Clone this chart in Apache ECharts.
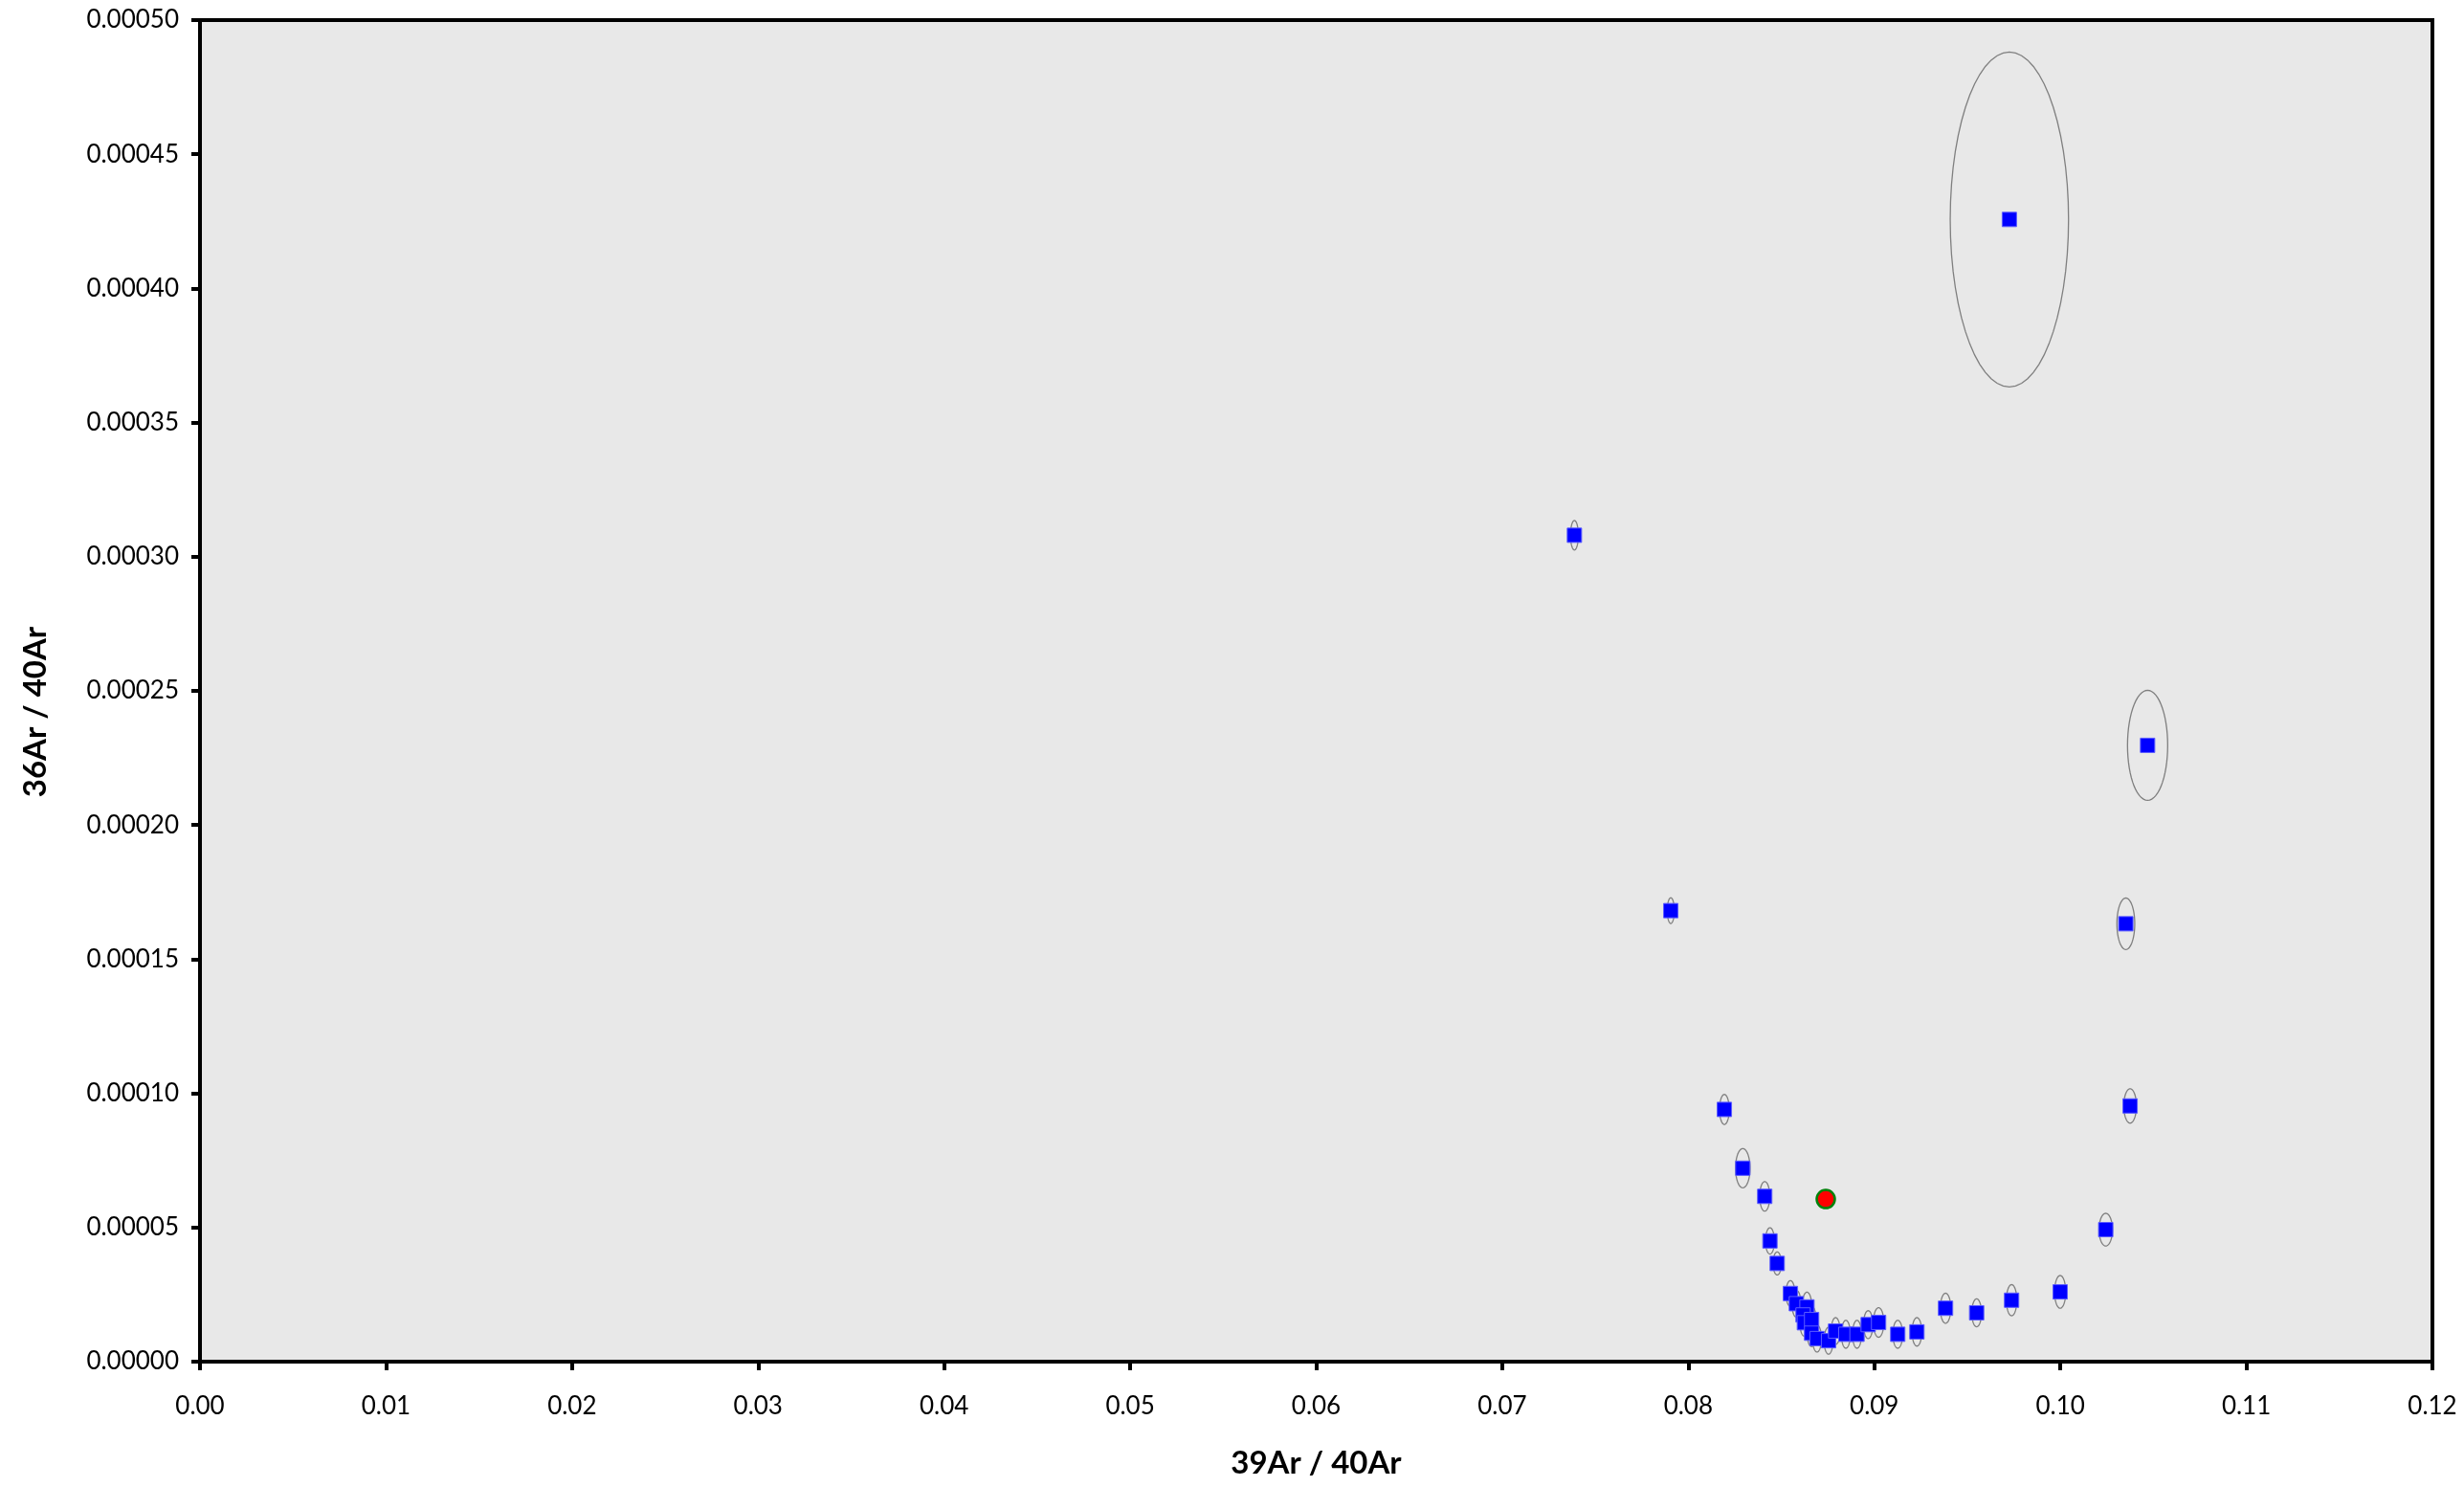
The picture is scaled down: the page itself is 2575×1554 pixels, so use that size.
<!DOCTYPE html>
<html>
<head>
<meta charset="utf-8">
<title>36Ar/40Ar vs 39Ar/40Ar</title>
<script src="https://cdn.jsdelivr.net/npm/echarts@6/dist/echarts.min.js"></script>
<style>
  html, body { margin: 0; padding: 0; background: #fff; }
  #chart { width: 2575px; height: 1554px; }
</style>
</head>
<body>
<div id="chart"></div>
<script>
// step data
var ar39_40 = [0.07388, 0.07906, 0.08194, 0.08293, 0.08411, 0.08439, 0.08478,
    0.08549, 0.08581, 0.08638, 0.08617, 0.08624, 0.08663, 0.08663, 0.08692,
    0.08754, 0.08792, 0.08847, 0.08907, 0.08967, 0.09023,
    0.09126, 0.09229, 0.09383, 0.09550, 0.09738, 0.09999,
    0.10244, 0.10375, 0.10352, 0.10469, 0.09726];
var ar36_40 = [0.0003080, 0.0001681, 0.0000940, 0.0000721, 0.0000616, 0.0000450, 0.0000366,
    0.0000254, 0.0000216, 0.0000204, 0.0000174, 0.0000145, 0.0000157, 0.0000106, 0.0000086,
    0.0000078, 0.0000114, 0.0000102, 0.0000102, 0.0000138, 0.0000146,
    0.0000102, 0.0000111, 0.0000199, 0.0000182, 0.0000229, 0.0000260,
    0.0000492, 0.0000953, 0.0001632, 0.0002297, 0.0004257];
// error ellipse half widths
var err39 = [0.00021, 0.00019, 0.00026, 0.00039, 0.00027, 0.00024, 0.00022,
    0.00024, 0.00024, 0.00026, 0.00024, 0.00024, 0.00024, 0.00024, 0.00024,
    0.00024, 0.00024, 0.00024, 0.00024, 0.00025, 0.00028,
    0.00026, 0.00026, 0.00028, 0.00026, 0.00028, 0.00030,
    0.00036, 0.00034, 0.00048, 0.00108, 0.00318];
var err36 = [0.0000055, 0.0000048, 0.0000056, 0.0000073, 0.0000055, 0.0000049, 0.0000043,
    0.0000048, 0.0000050, 0.0000055, 0.0000050, 0.0000050, 0.0000050, 0.0000050, 0.0000050,
    0.0000050, 0.0000050, 0.0000052, 0.0000052, 0.0000052, 0.0000055,
    0.0000052, 0.0000053, 0.0000056, 0.0000052, 0.0000058, 0.0000061,
    0.0000061, 0.0000064, 0.0000096, 0.0000205, 0.0000624];
// the red mean point
var meanX = [0.08739];
var meanY = [0.0000606];

var xTicks = [0, 0.12, 0.01];
var yTicks = [0, 0.0005, 0.00005];

var pts = [], ells = [];
for (var i = 0; i < ar39_40.length; i++) {
    pts.push([ar39_40[i], ar36_40[i]]);
    ells.push([ar39_40[i], ar36_40[i], err39[i], err36[i]]);
}
var meanPts = meanX.map(function (x, i) { return [x, meanY[i]]; });

var chart = echarts.init(document.getElementById('chart'));

var option = {
    animation: false,
    grid: {
        left: 209, right: 33, top: 21, bottom: 131,
        show: true,
        backgroundColor: '#e8e8e8',
        borderColor: '#000',
        borderWidth: 4
    },
    xAxis: {
        type: 'value',
        min: xTicks[0], max: xTicks[1], interval: xTicks[2],
        name: '39Ar / 40Ar',
        nameLocation: 'middle',
        nameGap: 90,
        nameTextStyle: {fontFamily: 'Lato', fontSize: 33, fontWeight: 'bold', color: '#000'},
        axisLine: {lineStyle: {color: '#000', width: 4}},
        axisTick: {length: 9, lineStyle: {color: '#000', width: 4}},
        splitLine: {show: false},
        axisLabel: {
            margin: 34, fontFamily: 'Lato', fontSize: 26, color: '#000',
            formatter: function (v) { return v.toFixed(2); }
        }
    },
    yAxis: {
        type: 'value',
        min: yTicks[0], max: yTicks[1], interval: yTicks[2],
        name: '36Ar / 40Ar',
        nameLocation: 'middle',
        nameGap: 155,
        nameTextStyle: {
            fontFamily: 'Lato', fontSize: 33, fontWeight: 'bold', color: '#000',
            padding: [0, 44, 0, 0]   // title sits a bit below the middle
        },
        axisLine: {lineStyle: {color: '#000', width: 4}},
        axisTick: {length: 9, lineStyle: {color: '#000', width: 4}},
        splitLine: {show: false},
        axisLabel: {
            margin: 22, fontFamily: 'Lato', fontSize: 26, color: '#000',
            formatter: function (v) { return v.toFixed(5); }
        }
    },
    series: [
        {
            // error ellipses
            type: 'custom',
            data: ells,
            silent: true,
            renderItem: function (params, api) {
                var c = api.coord([api.value(0), api.value(1)]);
                var s = api.size([api.value(2), api.value(3)]);
                var points = [];
                for (var k = 0; k < 60; k++) {
                    var a = k / 60 * Math.PI * 2;
                    points.push([c[0] + s[0] * Math.cos(a), c[1] + s[1] * Math.sin(a)]);
                }
                return {
                    type: 'polygon',
                    shape: {points: points},
                    style: {fill: 'none', stroke: '#7f7f7f', lineWidth: 1.3}
                };
            },
            z: 2
        },
        {
            type: 'scatter',
            data: pts,
            symbol: 'rect',
            symbolSize: 15,
            itemStyle: {color: '#0000ff', borderColor: '#5c5cff', borderWidth: 1, opacity: 1},
            z: 3
        },
        {
            type: 'scatter',
            data: meanPts,
            symbol: 'circle',
            symbolSize: 19,
            itemStyle: {color: '#ff0000', borderColor: '#00820a', borderWidth: 2.5, opacity: 1},
            z: 4
        }
    ]
};

chart.setOption(option);
window.addEventListener('resize', function () { chart.resize(); });
</script>
</body>
</html>
